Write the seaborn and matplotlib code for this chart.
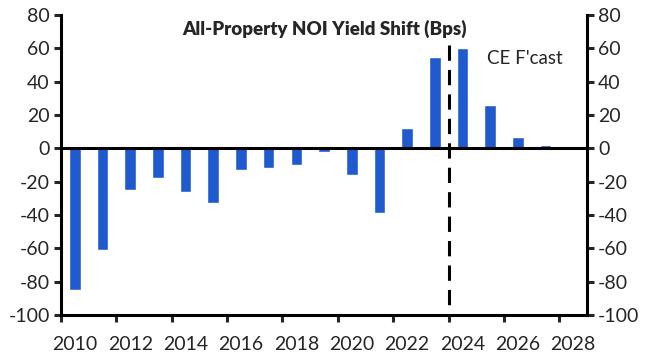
import numpy as np
import pandas as pd
import matplotlib
matplotlib.use("Agg")
import matplotlib.pyplot as plt
import seaborn as sns

# Données
years = [2010, 2011, 2012, 2013, 2014, 2015, 2016, 2017, 2018, 2019,
         2020, 2021, 2022, 2023, 2024, 2025, 2026, 2027]
yield_shift = [-85, -61, -25, -18, -26, -33, -13, -12, -10, -2,
               -16, -39, 12, 55, 60, 26, 7, 2]
label_years = [2010, 2012, 2014, 2016, 2018, 2020, 2022, 2024, 2026, 2028]
y_ticks = [80, 60, 40, 20, 0, -20, -40, -60, -80, -100]
title = "All-Property NOI Yield Shift (Bps)"
forecast_label = "CE F'cast"
forecast_start = 2023.5

sns.set_style("white")
plt.rcParams["font.family"] = ["Lato", "DejaVu Sans"]
plt.rcParams["axes.unicode_minus"] = False

df = pd.DataFrame({"year": years, "shift": yield_shift})

fig = plt.figure(figsize=(6.47, 3.62), dpi=100)
ax = fig.add_axes([0.0943, 0.1298, 0.8130, 0.8288])

sns.barplot(data=df, x="year", y="shift", native_scale=True, width=0.42,
            color="#1f5bce", saturation=1, ax=ax)

ax.set_xlim(2009.5, 2028.5)
ax.set_ylim(-100, 80)

# ligne zéro et séparation prévision (tracée du haut vers le bas)
ax.axhline(0, color="black", lw=2.2, zorder=3)
ax.plot([forecast_start, forecast_start], [62, -100], color="black", lw=2.2,
        dashes=(5, 3), zorder=3)

ax.set_title("")
ax.text(0.5, 0.955, title, transform=ax.transAxes, ha="center", va="center",
        fontsize=13.5, fontweight="heavy")
ax.text(2024.9, 54, forecast_label, ha="left", va="center", fontsize=13.5)

# axes
for side in ["left", "right", "bottom"]:
    ax.spines[side].set_visible(True)
    ax.spines[side].set_color("black")
    ax.spines[side].set_linewidth(2.2)
ax.spines["top"].set_visible(False)

ax.set_yticks(y_ticks)
ax.set_yticklabels([str(v) for v in y_ticks])
ax.tick_params(axis="y", which="major", direction="out", length=5, width=2.2,
               left=True, right=True, labelleft=True, labelright=True,
               labelsize=14, pad=3)

ax.set_xticks(label_years)
ax.set_xticklabels([str(y) for y in label_years])
ax.set_xticks([2009.5 + 2 * k for k in range(10)], minor=True)
ax.tick_params(axis="x", which="major", length=0, labelsize=14, pad=15)
ax.tick_params(axis="x", which="minor", direction="out", length=5, width=2.2,
               bottom=True)

ax.set_xlabel("")
ax.set_ylabel("")
ax.grid(False)

fig.savefig("out.png", dpi=100)
